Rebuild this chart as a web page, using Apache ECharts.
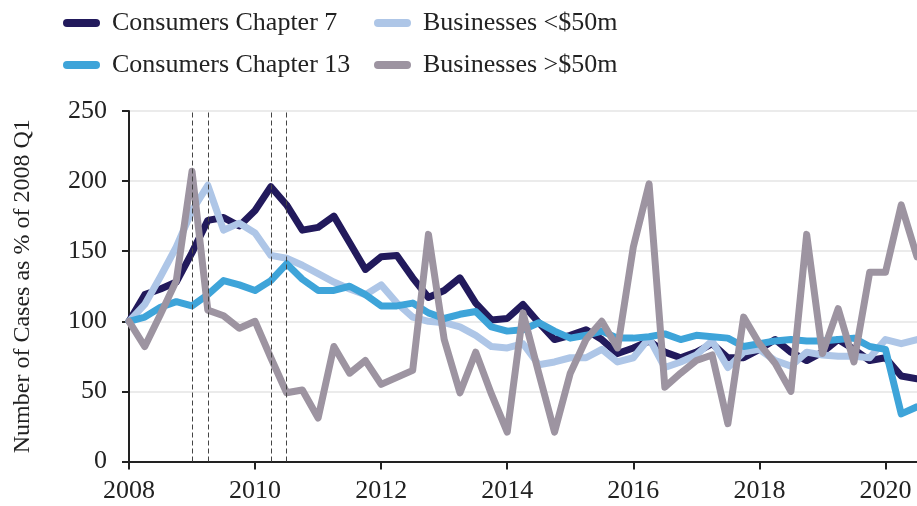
<!DOCTYPE html>
<html><head><meta charset="utf-8">
<script src="https://cdn.jsdelivr.net/npm/echarts@6/dist/echarts.min.js"></script>
<style>html,body{margin:0;padding:0;background:#fff}#c{width:917px;height:506px}</style>
</head><body><div id="c"></div>
<script>
const quarters = ['2008Q1','2008Q2','2008Q3','2008Q4','2009Q1','2009Q2','2009Q3','2009Q4',
'2010Q1','2010Q2','2010Q3','2010Q4','2011Q1','2011Q2','2011Q3','2011Q4',
'2012Q1','2012Q2','2012Q3','2012Q4','2013Q1','2013Q2','2013Q3','2013Q4',
'2014Q1','2014Q2','2014Q3','2014Q4','2015Q1','2015Q2','2015Q3','2015Q4',
'2016Q1','2016Q2','2016Q3','2016Q4','2017Q1','2017Q2','2017Q3','2017Q4',
'2018Q1','2018Q2','2018Q3','2018Q4','2019Q1','2019Q2','2019Q3','2019Q4',
'2020Q1','2020Q2','2020Q3'];
const consumersCh7 = [100,119,123,128,149,172,174,168,179,196,183,165,167,175,156,137,146,147,131,117,122,131,113,101,102,112,99,87,90,94,87,77,81,86,78,74,78,84,74,74,80,87,78,72,78,87,80,72,74,61,59];
const consumersCh13 = [100,103,110,114,111,119,129,126,122,129,141,130,122,122,125,119,111,111,113,106,102,105,107,96,93,94,99,93,88,90,93,88,88,89,91,87,90,89,88,82,84,86,87,86,86,87,88,82,80,34,39];
const businessesSmall = [100,112,132,153,179,197,165,170,163,147,145,140,134,128,123,119,126,113,103,100,99,96,90,82,81,84,69,71,74,74,80,71,74,88,67,71,76,86,67,78,80,72,68,78,76,75,75,74,87,84,87];
const businessesLarge = [100,82,105,129,207,108,104,95,100,74,49,51,31,82,63,72,55,60,65,162,87,49,78,48,21,106,63,21,63,87,100,81,153,198,53,63,72,76,27,103,84,70,50,162,77,109,71,135,135,183,146];
const dashedQuarters = ['2009Q1','2009Q2','2010Q2','2010Q3'];
const yTicks = [0,50,100,150,200,250];

const FONT = '"Liberation Serif", "Times New Roman", serif';
const ICON = 'path://M4,0 L33,0 A4,4 0 0 1 33,8 L4,8 A4,4 0 0 1 4,0 Z';
const chart = echarts.init(document.getElementById('c'), null, {renderer:'canvas'});
const lineSeries = (name, data, color, extra) => Object.assign({
  name, type:'line', data, showSymbol:false, symbol:'none', animation:false,
  color, itemStyle:{color},
  lineStyle:{width:7, color, cap:'round', join:'round'}
}, extra || {});
const everyYear2 = (i) => i % 8 === 0;
const legendBase = {orient:'vertical', padding:0, itemWidth:37, itemHeight:8, itemGap:16, icon:ICON,
  textStyle:{fontFamily:FONT, fontSize:26, color:'#222', lineHeight:25, padding:[0,0,0,7]}};
chart.setOption({
  animation:false,
  backgroundColor:'#fff',
  grid:{left:129, top:111, right:0, bottom:44.5, containLabel:false},
  legend:[
    Object.assign({left:63, top:10, data:['Consumers Chapter 7','Consumers Chapter 13']}, legendBase),
    Object.assign({left:374, top:10, data:['Businesses <$50m','Businesses >$50m']}, legendBase)
  ],
  xAxis:{type:'category', data:quarters, boundaryGap:false,
    axisLine:{show:true, lineStyle:{color:'#222', width:2}},
    axisTick:{show:true, interval:everyYear2, length:8, lineStyle:{color:'#222', width:2}},
    axisLabel:{interval:everyYear2, formatter:v=>v.slice(0,4), fontFamily:FONT, fontSize:26, color:'#222', margin:17},
    splitLine:{show:false}},
  yAxis:{type:'value', min:yTicks[0], max:yTicks[yTicks.length-1], interval:50,
    name:'Number of Cases as % of 2008 Q1', nameLocation:'middle', nameGap:94,
    nameTextStyle:{fontFamily:FONT, fontSize:24, color:'#222'},
    axisLine:{show:true, lineStyle:{color:'#222', width:2}},
    axisTick:{show:true, length:7, lineStyle:{color:'#222', width:2}},
    axisLabel:{fontFamily:FONT, fontSize:26, color:'#222', margin:22},
    splitLine:{show:true, lineStyle:{color:'#e4e4e4', width:1.5}}},
  series:[
    {type:'line', data:[], silent:true, animation:false,
     markLine:{silent:true, symbol:['none','none'], label:{show:false}, animation:false,
       lineStyle:{color:'#444', width:1, type:[5,3]},
       data:dashedQuarters.map(q=>({xAxis:q}))}},
    lineSeries('Consumers Chapter 7', consumersCh7, '#221a5c'),
    lineSeries('Businesses <$50m', businessesSmall, '#aec6e7'),
    lineSeries('Consumers Chapter 13', consumersCh13, '#3ea4d9'),
    lineSeries('Businesses >$50m', businessesLarge, '#9d94a1')
  ]
});
</script></body></html>
